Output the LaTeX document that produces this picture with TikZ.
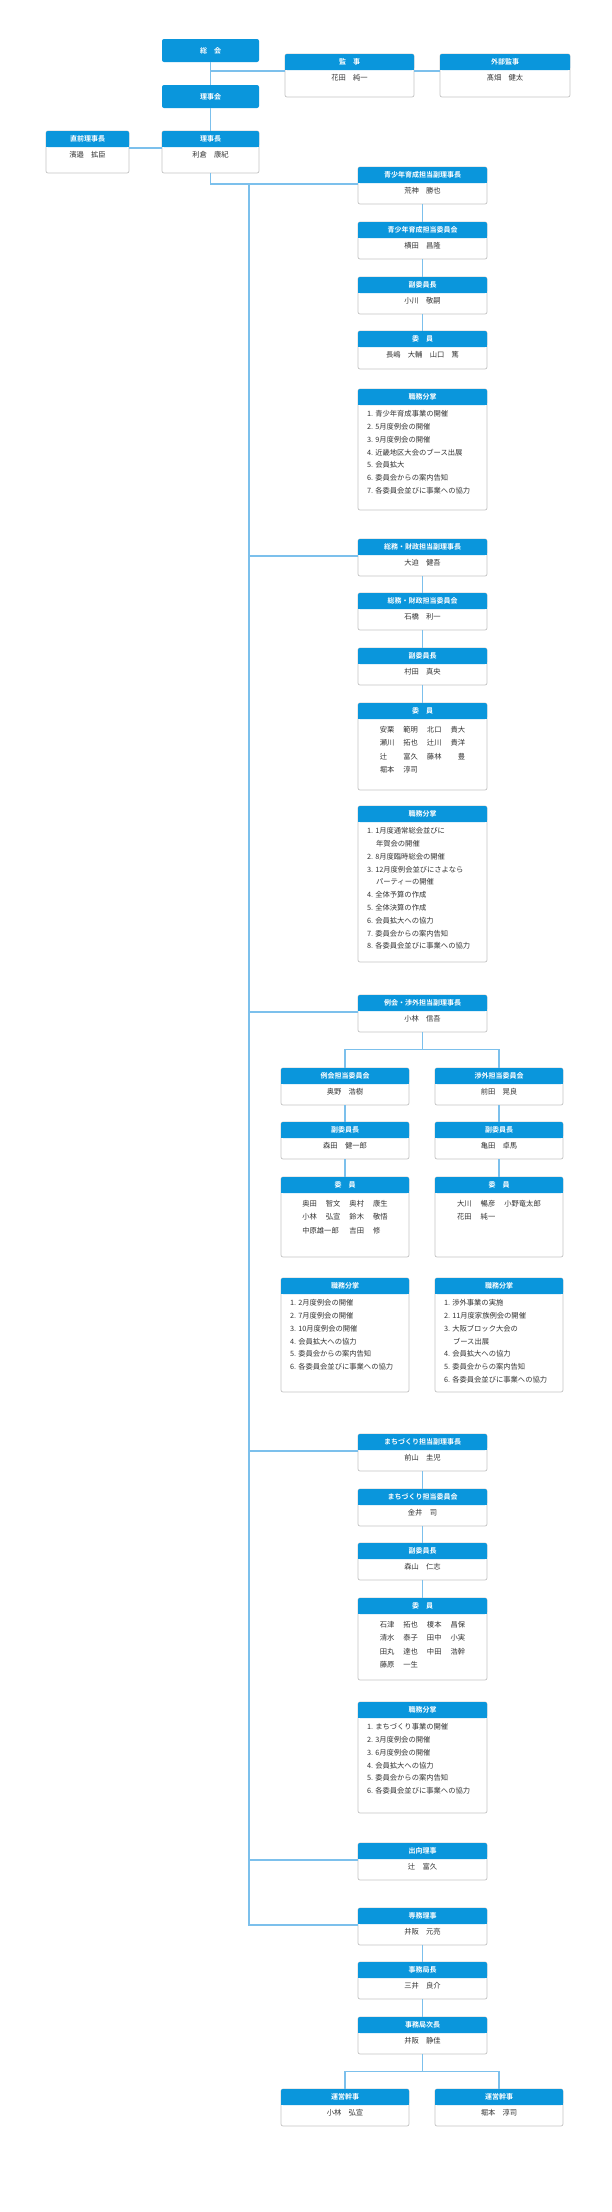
\documentclass[tikz,border=0pt]{standalone}
\usepackage{fontspec}
\setmainfont{Noto Sans CJK JP}[BoldFont={Noto Sans CJK JP Bold}]
\usetikzlibrary{fit}
\definecolor{hdrc}{HTML}{0A96DC}
\definecolor{lnc}{HTML}{7CC0EC}
\definecolor{brc}{HTML}{C4C4C4}
\definecolor{txc}{HTML}{333333}
\tikzset{
 hdr/.style={fill=hdrc},
 ln/.style={draw=lnc,line width=1.3pt},
 frame/.style={draw=brc,fill=white,line width=0.7pt,rounded corners=2pt},
 ttl/.style={text=white,font=\fontsize{7}{8}\selectfont\bfseries,inner sep=0pt},
 bodyc/.style={text=txc,font=\fontsize{7.3}{13.4}\selectfont,inner sep=0pt,align=center,anchor=north},
 bodyl/.style={text=txc,font=\fontsize{7.3}{12.8}\selectfont,inner sep=0pt,align=left,anchor=north west},
}
% name, xl, yt, xr, yb, title
\newcommand{\orgframe}[6]{%
 \path[frame] (#2,#3) rectangle (#4,#5);
 \fill[hdr,rounded corners=2pt] (#2,#3) rectangle (#4,#3+16);
 \fill[hdr] (#2,#3+10) rectangle (#4,#3+16);
 \node[ttl] at ({(#2+#4)/2},{#3+8.3}) {#6};
 \path (#2,#3) coordinate (#1-nw) (#4,#5) coordinate (#1-se)
       (#2,#3+17) coordinate (#1-w) (#4,#3+17) coordinate (#1-e);
 \node[fit=(#1-nw)(#1-se),inner sep=0pt] (#1) {};
}
\newcommand{\obox}[7]{\orgframe{#1}{#2}{#3}{#4}{#5}{#6}%
 \node[bodyc] at ([yshift=-20pt]#1.north) {#7};}
\newcommand{\jbox}[7]{\orgframe{#1}{#2}{#3}{#4}{#5}{#6}%
 \node[bodyl] at ([xshift=9pt,yshift=-21.5pt]#1.north west) {#7};}
\newcommand{\hdrbox}[6]{%
 \fill[hdr,rounded corners=2pt] (#2,#3) rectangle (#4,#5);
 \node[ttl] at ({(#2+#4)/2},{(#3+#5)/2}) {#6};
 \path (#2,#3) coordinate (#1-nw) (#4,#5) coordinate (#1-se);
 \node[fit=(#1-nw)(#1-se),inner sep=0pt] (#1) {};}
\newcommand{\mg}{\hspace{9pt}}
\begin{document}
\begin{tikzpicture}[x=1pt,y=-1pt]
\useasboundingbox[fill=white] (0,0) rectangle (612,2212);
% ---- top
\hdrbox{sokai}{162}{39}{259}{62}{総　会}
\hdrbox{rijikai}{162}{85}{259}{108}{理事会}
\obox{kanji}{285}{54}{414}{97}{監　事}{花田　純一}
\obox{gaibu}{440}{54}{570}{97}{外部監事}{髙畑　健太}
\obox{zen}{46}{131}{129}{173}{直前理事長}{濱邉　拡臣}
\obox{rijicho}{162}{131}{259}{173}{理事長}{利倉　康紀}
\draw[ln] (sokai.south) -- (rijikai.north);
\draw[ln] (sokai.south |- kanji-w) -- (kanji-w);
\draw[ln] (kanji-e) -- (gaibu-w);
\draw[ln] (rijikai.south) -- (rijicho.north);
\draw[ln] (zen-e) -- (rijicho-w);
% ---- youth
\obox{s1}{358}{167}{487}{204}{青少年育成担当副理事長}{荒神　勝也}
\obox{s2}{358}{222}{487}{259}{青少年育成担当委員会}{横田　昌隆}
\obox{s3}{358}{277}{487}{314}{副委員長}{小川　敬嗣}
\obox{s4}{358}{331}{487}{369}{委　員}{長嶋　大輔　山口　篤}
\jbox{s5}{358}{389}{487}{510}{職務分掌}{1. 青少年育成事業の開催\\2. 5月度例会の開催\\3. 9月度例会の開催\\4. 近畿地区大会のブース出展\\5. 会員拡大\\6. 委員会からの案内告知\\7. 各委員会並びに事業への協力}
\draw[ln] (rijicho.south) |- (s1-w);
\draw[ln] (s1) -- (s2); \draw[ln] (s2) -- (s3); \draw[ln] (s3) -- (s4);
% ---- general affairs
\obox{g1}{358}{539}{487}{576}{総務・財政担当副理事長}{大迫　健吾}
\obox{g2}{358}{593}{487}{630}{総務・財政担当委員会}{石橋　利一}
\obox{g3}{358}{648}{487}{685}{副委員長}{村田　真央}
\obox{g4}{358}{703}{487}{790}{委　員}{\begin{tabular}{@{}l@{\mg}l@{\mg}l@{\mg}r@{}}安栗&範明&北口&貴大\\瀬川&拓也&辻川&貴洋\\辻&富久&藤林&豊\\堀本&淳司&&\end{tabular}}
\jbox{g5}{358}{806}{487}{962}{職務分掌}{1. 1月度通常総会並びに\\\hspace{9pt}年賀会の開催\\2. 8月度臨時総会の開催\\3. 12月度例会並びにさよなら\\\hspace{9pt}パーティーの開催\\4. 全体予算の作成\\5. 全体決算の作成\\6. 会員拡大への協力\\7. 委員会からの案内告知\\8. 各委員会並びに事業への協力}
\draw[ln] (g1) -- (g2); \draw[ln] (g2) -- (g3); \draw[ln] (g3) -- (g4);
% ---- reikai / shogai
\obox{r1}{358}{995}{487}{1032}{例会・渉外担当副理事長}{小林　信吾}
\obox{rl1}{281}{1068}{409}{1105}{例会担当委員会}{奥野　浩樹}
\obox{rl2}{281}{1122}{409}{1159}{副委員長}{森田　健一郎}
\obox{rl3}{281}{1177}{409}{1257}{委　員}{\begin{tabular}{@{}l@{\mg}l@{\mg}l@{\mg}l@{}}奥田&智文&奥村&康生\\小林&弘宣&鈴木&敬悟\\\multicolumn{2}{@{}l@{\mg}}{中原雄一郎}&吉田&修\end{tabular}}
\jbox{rl4}{281}{1278}{409}{1392}{職務分掌}{1. 2月度例会の開催\\2. 7月度例会の開催\\3. 10月度例会の開催\\4. 会員拡大への協力\\5. 委員会からの案内告知\\6. 各委員会並びに事業への協力}
\obox{rr1}{435}{1068}{563}{1105}{渉外担当委員会}{前田　晃良}
\obox{rr2}{435}{1122}{563}{1159}{副委員長}{亀田　卓馬}
\obox{rr3}{435}{1177}{563}{1257}{委　員}{\begin{tabular}{@{}l@{\mg}l@{\mg}l@{}}大川&暢彦&小野竜太郎\\花田&純一&\phantom{小野竜太郎}\end{tabular}}
\jbox{rr4}{435}{1278}{563}{1392}{職務分掌}{1. 渉外事業の実施\\2. 11月度家族例会の開催\\3. 大阪ブロック大会の\\\hspace{9pt}ブース出展\\4. 会員拡大への協力\\5. 委員会からの案内告知\\6. 各委員会並びに事業への協力}
\draw[ln] (r1.south) -- ++(0,17) -| (rl1.north);
\draw[ln] (r1.south) -- ++(0,17) -| (rr1.north);
\draw[ln] (rl1) -- (rl2); \draw[ln] (rl2) -- (rl3);
\draw[ln] (rr1) -- (rr2); \draw[ln] (rr2) -- (rr3);
% ---- machizukuri
\obox{m1}{358}{1434}{487}{1471}{まちづくり担当副理事長}{前山　圭児}
\obox{m2}{358}{1489}{487}{1526}{まちづくり担当委員会}{金井　司}
\obox{m3}{358}{1543}{487}{1580}{副委員長}{森山　仁志}
\obox{m4}{358}{1598}{487}{1680}{委　員}{\begin{tabular}{@{}l@{\mg}l@{\mg}l@{\mg}l@{}}石津&拓也&榎本&昌保\\清水&泰子&田中&小実\\田丸&達也&中田&浩幹\\藤原&一生&&\end{tabular}}
\jbox{m5}{358}{1702}{487}{1813}{職務分掌}{1. まちづくり事業の開催\\2. 3月度例会の開催\\3. 6月度例会の開催\\4. 会員拡大への協力\\5. 委員会からの案内告知\\6. 各委員会並びに事業への協力}
\draw[ln] (m1) -- (m2); \draw[ln] (m2) -- (m3); \draw[ln] (m3) -- (m4);
% ---- office
\obox{e1}{358}{1843}{487}{1880}{出向理事}{辻　富久}
\obox{t1}{358}{1908}{487}{1945}{専務理事}{井阪　元亮}
\obox{t2}{358}{1962}{487}{1999}{事務局長}{三井　良介}
\obox{t3}{358}{2017}{487}{2054}{事務局次長}{井阪　静佳}
\obox{u1}{281}{2089}{409}{2126}{運営幹事}{小林　弘宣}
\obox{u2}{435}{2089}{563}{2126}{運営幹事}{堀本　淳司}
\draw[ln] (t1) -- (t2); \draw[ln] (t2) -- (t3);
\draw[ln] (t3.south) -- ++(0,17) -| (u1.north);
\draw[ln] (t3.south) -- ++(0,17) -| (u2.north);
% ---- trunk
\coordinate (trunk) at (249,0);
\draw[ln] (trunk |- s1-w) -- (trunk |- t1-w) -- (t1-w);
\draw[ln] (trunk |- g1-w) -- (g1-w);
\draw[ln] (trunk |- r1-w) -- (r1-w);
\draw[ln] (trunk |- m1-w) -- (m1-w);
\draw[ln] (trunk |- e1-w) -- (e1-w);
\end{tikzpicture}
\end{document}
